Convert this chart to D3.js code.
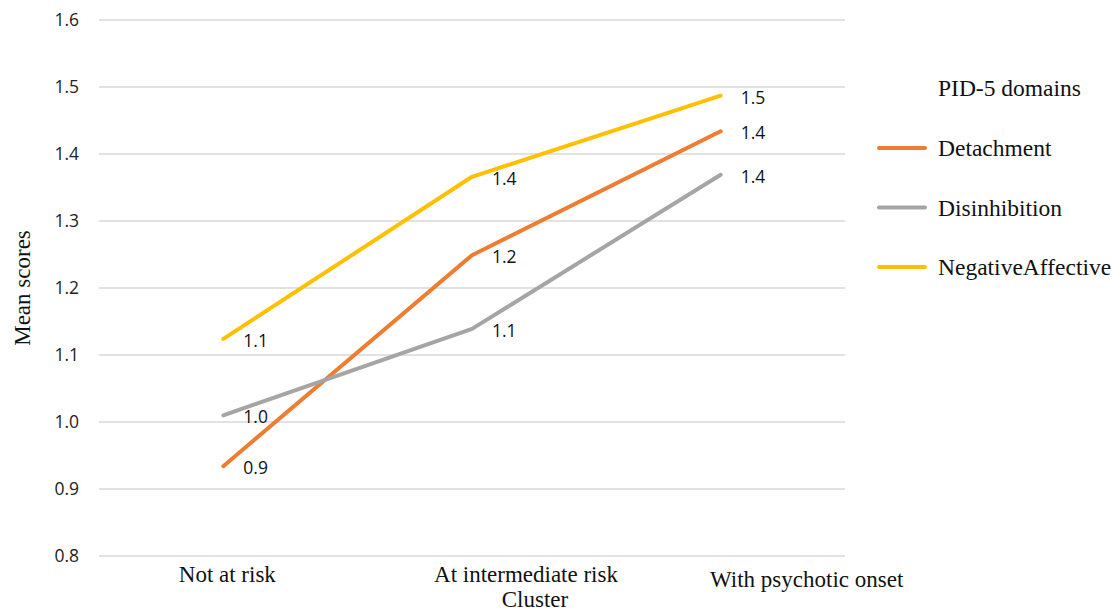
<!DOCTYPE html>
<html><head><meta charset="utf-8">
<script src="https://cdn.jsdelivr.net/npm/d3@7"></script>
<style>body{margin:0;background:#fff}svg{display:block}</style>
</head><body><svg id="c" width="1117" height="612"></svg>
<script>
const categories = ["Not at risk", "At intermediate risk", "With psychotic onset"];
const seriesNames = ["Detachment", "Disinhibition", "NegativeAffective"];
const detachment = [0.934, 1.249, 1.434];
const disinhibition = [1.010, 1.139, 1.369];
const negativeAffective = [1.124, 1.366, 1.487];
const yTicks = [0.8, 0.9, 1.0, 1.1, 1.2, 1.3, 1.4, 1.5, 1.6];
const colors = ["#ED7D31", "#A5A5A5", "#FFC000"];
const series = [detachment, disinhibition, negativeAffective];

const svg = d3.select("#c");
const x = d3.scaleBand().domain(categories).range([99, 845]);
const y = d3.scaleLinear().domain([0.8, 1.6]).range([556, 20]);
const sans = "'Open Sans', 'Liberation Sans', sans-serif";
const serif = "'Liberation Serif', 'Times New Roman', serif";

// grid
svg.append("g").selectAll("line").data(yTicks).join("line")
  .attr("x1", 99).attr("x2", 845)
  .attr("y1", d => y(d)).attr("y2", d => y(d))
  .attr("stroke", "#d9d9d9").attr("stroke-width", 1.3);

// y tick labels
svg.append("g").selectAll("text").data(yTicks).join("text")
  .attr("x", 79).attr("y", d => y(d)).attr("dy", "0.35em")
  .attr("text-anchor", "end")
  .style("font-family", sans)
  .style("font-size", "17.5px").attr("fill", "#222")
  .text(d => d.toFixed(1));

// x category labels (positioned as in reference)
const xLabelOffsets = [4, 54, 86];
svg.append("g").selectAll("text").data(categories).join("text")
  .attr("x", (d, i) => x(d) + x.bandwidth() / 2 + xLabelOffsets[i])
  .attr("y", (d, i) => i === 2 ? 587 : 582)
  .attr("text-anchor", "middle")
  .style("font-family", serif)
  .style("font-size", "23px").attr("fill", "#111")
  .text(d => d);

svg.append("text").attr("x", 535).attr("y", 607).attr("text-anchor", "middle")
  .style("font-family", serif).style("font-size", "23px").attr("fill", "#111")
  .text("Cluster");

svg.append("text").attr("transform", "translate(30,288) rotate(-90)").attr("text-anchor", "middle")
  .style("font-family", serif).style("font-size", "23px").attr("fill", "#111")
  .text("Mean scores");

const line = d3.line().x((d, i) => x(categories[i]) + x.bandwidth() / 2).y(d => y(d));
series.forEach((s, k) => {
  svg.append("path").attr("d", line(s)).attr("fill", "none")
    .attr("stroke", colors[k]).attr("stroke-width", 4).attr("stroke-linecap", "round").attr("stroke-linejoin", "round");
});
series.forEach((s, k) => {
  svg.append("g").selectAll("text").data(s).join("text")
    .attr("x", (d, i) => x(categories[i]) + x.bandwidth() / 2 + 20)
    .attr("y", d => y(d) + 2).attr("dy", "0.35em")
    .style("font-family", sans)
    .style("font-size", "17.5px").attr("fill", "#111")
    .text(d => d.toFixed(1));
});

// legend
svg.append("text").attr("x", 938).attr("y", 88).attr("dy", "0.35em")
  .style("font-family", serif).style("font-size", "23.5px").attr("fill", "#111")
  .text("PID-5 domains");
const lg = svg.append("g").selectAll("g").data(seriesNames).join("g")
  .attr("transform", (d, i) => `translate(0,${148 + i * 59.5})`);
lg.append("line").attr("x1", 879).attr("x2", 925).attr("stroke", (d, i) => colors[i])
  .attr("stroke-width", 4).attr("stroke-linecap", "round");
lg.append("text").attr("x", 938).attr("dy", "0.35em")
  .style("font-family", serif).style("font-size", "23.5px").attr("fill", "#111")
  .text(d => d);
</script></body></html>
